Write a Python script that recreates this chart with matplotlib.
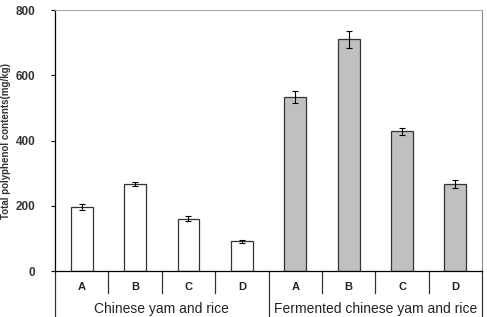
import numpy as np
import matplotlib.pyplot as plt

plt.rcParams['font.family'] = ['Liberation Sans', 'DejaVu Sans']

# data
samples = ['A', 'B', 'C', 'D']
groups = ['Chinese yam and rice', 'Fermented chinese yam and rice']
raw_vals = [196, 267, 160, 91]
raw_err = [10, 5, 8, 5]
ferm_vals = [533, 710, 428, 267]
ferm_err = [18, 26, 11, 12]
y_ticks = [0, 200, 400, 600, 800]


def main():
    fig = plt.figure(figsize=(4.87, 3.17), dpi=100)
    ax = fig.add_axes([0.113, 0.145, 0.877, 0.823])

    x_raw = np.arange(len(samples))
    x_ferm = np.arange(len(samples)) + len(samples)
    ekw = dict(ecolor='black', elinewidth=0.8, capsize=2.5, capthick=0.8)
    ax.bar(x_raw, raw_vals, width=0.41, color='white', edgecolor='#333333',
           linewidth=0.9, yerr=raw_err, error_kw=ekw, zorder=2)
    ax.bar(x_ferm, ferm_vals, width=0.41, color='#c0c0c0', edgecolor='#333333',
           linewidth=0.9, yerr=ferm_err, error_kw=ekw, zorder=2)

    ax.set_xlim(-0.5, 7.5)
    ax.set_ylim(0, 800)
    ax.set_yticks(y_ticks)
    ax.set_yticklabels([str(v) for v in y_ticks], fontsize=8.5, fontweight='bold',
                       color='#333333')
    ax.tick_params(axis='y', direction='out', length=3, width=0.8, pad=11)
    ax.set_xticks([])

    ax.spines['top'].set_color('#aaaaaa')
    ax.spines['right'].set_color('#888888')
    ax.spines['top'].set_linewidth(0.8)
    ax.spines['right'].set_linewidth(0.8)
    ax.spines['left'].set_linewidth(0.9)
    ax.spines['bottom'].set_linewidth(0.9)

    # the label sits right at the left edge, as in the reference
    ax.set_ylabel('Total polyphenol contents(mg/kg)', fontsize=7, fontweight='bold',
                  color='#333333')
    ax.yaxis.set_label_coords(-0.102, 0.5)

    # category table below the axis
    trans = ax.get_xaxis_transform()
    low = -0.176
    for xs in [-0.5, 3.5, 7.5]:
        ax.plot([xs, xs], [0, low], transform=trans, color='#333333',
                lw=0.9, clip_on=False)
    for xs in [0.5, 1.5, 2.5, 4.5, 5.5, 6.5]:
        ax.plot([xs, xs], [0, -0.084], transform=trans, color='#333333',
                lw=0.9, clip_on=False)
    for xi, lab in zip(np.concatenate([x_raw, x_ferm]), samples + samples):
        ax.text(xi, -0.061, lab, transform=trans, ha='center', va='center',
                fontsize=8, fontweight='bold', color='#222222')
    ax.text(1.5, -0.146, groups[0], transform=trans, ha='center', va='center',
            fontsize=10, color='#222222')
    ax.text(5.5, -0.146, groups[1], transform=trans, ha='center', va='center',
            fontsize=10, color='#222222')

    fig.savefig('out.png', dpi=100)


if __name__ == "__main__":
    main()
